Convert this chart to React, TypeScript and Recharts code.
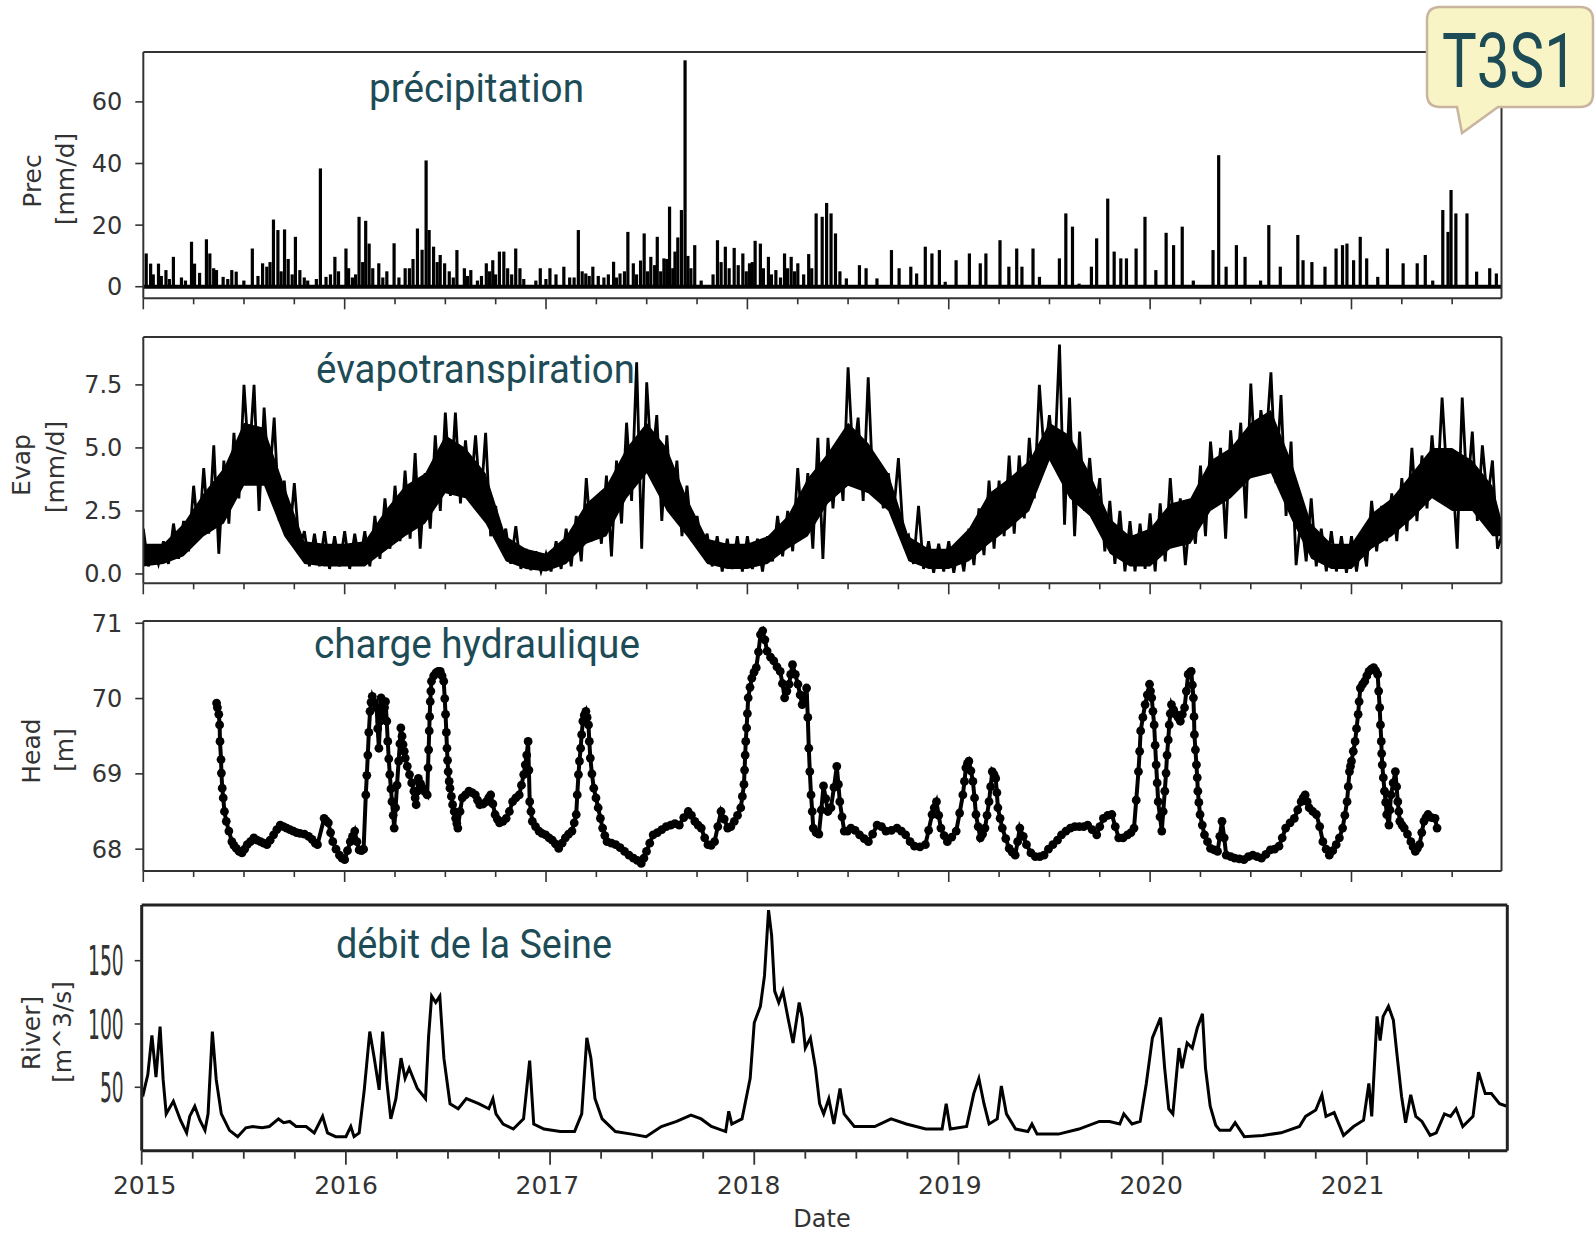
import React from 'react';
import { ComposedChart, Bar, Line, Area, Scatter, XAxis, YAxis, ReferenceLine } from 'recharts';

const W = 1595;
const H = 1233;
const INK = '#000000';
const AXIS = '#333333';
const TEAL = '#1d4b56';
const SANS = '"DejaVu Sans", Verdana, sans-serif';

// decimal-year ranges of the panels
const UPPER_X: [number, number] = [2015, 2021.745];
const RIVER_X: [number, number] = [2015, 2021.688];
// the year labels under the river panel sit on a slightly different scale than its ticks
const RIVER_LABEL_X: [number, number] = [2014.985, 2021.769];

const YEARS = [2015, 2016, 2017, 2018, 2019, 2020, 2021];
const QUARTERS = [
  2015, 2015.25, 2015.5, 2015.75, 2016, 2016.25, 2016.5, 2016.75, 2017, 2017.25, 2017.5, 2017.75,
  2018, 2018.25, 2018.5, 2018.75, 2019, 2019.25, 2019.5, 2019.75, 2020, 2020.25, 2020.5, 2020.75,
  2021, 2021.25, 2021.5,
];

const PREC_TICKS = [0, 20, 40, 60];
const EVAP_TICKS = [0, 2.5, 5, 7.5];
const HEAD_TICKS = [68, 69, 70, 71];
const RIVER_TICKS = [50, 100, 150];

// daily precipitation peaks [year, mm/d]
const PREC: [number, number][] = [
  [2015.015, 10.8], [2015.037, 7.5], [2015.05, 4.0], [2015.076, 7.5], [2015.09, 3.5], [2015.113, 5.4],
  [2015.13, 2.5], [2015.15, 9.7], [2015.19, 3.0], [2015.21, 2.0], [2015.24, 14.6], [2015.255, 7.5],
  [2015.28, 4.5], [2015.314, 15.4], [2015.331, 10.8], [2015.35, 6.0], [2015.364, 5.4], [2015.397, 3.2],
  [2015.42, 2.5], [2015.44, 5.4], [2015.462, 4.9], [2015.5, 2.0], [2015.542, 12.4], [2015.57, 3.5],
  [2015.593, 7.6], [2015.614, 6.5], [2015.63, 8.0], [2015.647, 21.8], [2015.669, 18.4], [2015.685, 5.0],
  [2015.702, 18.6], [2015.72, 9.0], [2015.74, 4.0], [2015.756, 16.2], [2015.778, 5.4], [2015.8, 3.0],
  [2015.817, 2.0], [2015.86, 2.5], [2015.88, 38.4], [2015.908, 3.2], [2015.93, 4.0], [2015.952, 9.7],
  [2015.97, 5.0], [2016.007, 12.4], [2016.02, 6.0], [2016.039, 3.0], [2016.055, 4.0], [2016.072, 22.7],
  [2016.09, 8.0], [2016.105, 21.4], [2016.122, 14.0], [2016.14, 6.0], [2016.17, 7.6], [2016.19, 3.0],
  [2016.21, 5.0], [2016.246, 14.1], [2016.27, 3.0], [2016.301, 6.0], [2016.322, 6.0], [2016.34, 9.0],
  [2016.362, 18.9], [2016.385, 12.0], [2016.405, 41.0], [2016.42, 18.4], [2016.442, 13.0], [2016.46, 8.0],
  [2016.475, 10.3], [2016.497, 7.6], [2016.52, 5.0], [2016.54, 3.0], [2016.558, 11.9], [2016.595, 6.0],
  [2016.61, 3.5], [2016.627, 5.4], [2016.66, 2.0], [2016.68, 3.5], [2016.704, 7.6], [2016.72, 5.0],
  [2016.736, 8.6], [2016.75, 4.0], [2016.769, 11.4], [2016.791, 11.4], [2016.81, 6.0], [2016.83, 4.0],
  [2016.85, 12.4], [2016.871, 6.0], [2016.89, 2.5], [2016.95, 2.0], [2016.972, 6.0], [2017.0, 2.5],
  [2017.02, 6.0], [2017.05, 4.0], [2017.089, 6.5], [2017.118, 3.0], [2017.14, 3.0], [2017.161, 18.4],
  [2017.18, 5.0], [2017.198, 4.3], [2017.215, 3.5], [2017.233, 6.5], [2017.26, 3.5], [2017.288, 3.0],
  [2017.31, 4.0], [2017.336, 8.1], [2017.35, 3.0], [2017.368, 4.3], [2017.39, 5.0], [2017.407, 17.8],
  [2017.434, 7.6], [2017.45, 4.0], [2017.47, 8.5], [2017.488, 17.3], [2017.505, 5.0], [2017.521, 9.7],
  [2017.54, 7.0], [2017.553, 16.2], [2017.57, 5.0], [2017.586, 9.2], [2017.6, 9.0], [2017.614, 26.0],
  [2017.63, 6.0], [2017.641, 11.4], [2017.655, 16.0], [2017.673, 24.9], [2017.691, 73.5], [2017.705, 10.0],
  [2017.72, 6.0], [2017.739, 13.5], [2017.771, 2.0], [2017.83, 4.0], [2017.852, 15.1], [2017.87, 8.0],
  [2017.891, 13.0], [2017.91, 6.0], [2017.935, 12.6], [2017.955, 7.0], [2017.978, 10.8], [2017.995, 5.0],
  [2018.011, 7.6], [2018.025, 8.0], [2018.039, 14.9], [2018.065, 14.0], [2018.08, 6.0], [2018.105, 9.7],
  [2018.12, 4.0], [2018.142, 5.4], [2018.165, 3.0], [2018.185, 10.8], [2018.2, 6.0], [2018.218, 9.7],
  [2018.235, 5.0], [2018.251, 7.6], [2018.28, 4.0], [2018.305, 10.6], [2018.32, 6.0], [2018.342, 23.8],
  [2018.372, 22.7], [2018.394, 27.2], [2018.416, 23.8], [2018.438, 17.3], [2018.46, 5.0], [2018.492, 2.7],
  [2018.557, 7.0], [2018.59, 6.0], [2018.644, 2.7], [2018.716, 11.9], [2018.754, 6.0], [2018.812, 6.5],
  [2018.841, 4.3], [2018.884, 13.0], [2018.917, 10.8], [2018.954, 11.9], [2018.983, 1.6], [2019.037, 8.6],
  [2019.103, 10.8], [2019.157, 7.6], [2019.185, 10.8], [2019.255, 15.1], [2019.299, 6.5], [2019.338, 12.4],
  [2019.364, 6.5], [2019.419, 12.4], [2019.451, 3.2], [2019.55, 9.2], [2019.582, 23.8], [2019.615, 19.5],
  [2019.648, 1.0], [2019.709, 6.5], [2019.735, 15.7], [2019.79, 28.6], [2019.822, 11.4], [2019.855, 9.2],
  [2019.883, 9.2], [2019.931, 12.4], [2019.975, 22.7], [2020.029, 5.4], [2020.08, 17.5], [2020.117, 13.5],
  [2020.16, 19.5], [2020.215, 2.0], [2020.313, 11.9], [2020.341, 42.7], [2020.378, 6.5], [2020.429, 13.5],
  [2020.472, 9.7], [2020.549, 2.0], [2020.59, 20.0], [2020.647, 6.5], [2020.734, 16.8], [2020.76, 8.6],
  [2020.804, 8.0], [2020.869, 6.5], [2020.924, 12.4], [2020.956, 13.5], [2020.978, 14.0], [2021.011, 8.6],
  [2021.044, 16.2], [2021.076, 9.2], [2021.131, 3.2], [2021.179, 12.4], [2021.257, 7.6], [2021.327, 7.6],
  [2021.367, 10.3], [2021.404, 2.0], [2021.454, 24.9], [2021.48, 17.8], [2021.495, 31.4], [2021.519, 23.8],
  [2021.574, 23.8], [2021.622, 4.9], [2021.687, 6.0], [2021.72, 4.3],
];

// evapotranspiration, one value every 1/40 year [mm/d]
const EVAP_2015 = [
  1.8, 0.3, 1.0, 0.4, 1.3, 0.4, 2.0, 0.6, 2.1, 0.9, 3.5, 1.4, 4.2, 1.6, 5.1, 0.8, 4.5, 2.0, 5.6, 3.0,
  7.5, 4.4, 7.5, 2.5, 6.6, 3.5, 6.2, 2.1, 3.7, 1.3, 3.6, 1.0, 1.7, 0.3, 1.6, 0.3, 1.7, 0.2, 1.5, 0.3,
];
const EVAP_2016 = [
  1.7, 0.2, 1.6, 0.4, 1.7, 0.3, 2.3, 0.6, 3.0, 1.0, 3.5, 1.3, 4.1, 1.4, 4.8, 1.0, 4.0, 1.8, 5.5, 2.5,
  6.4, 3.1, 6.4, 2.8, 5.3, 3.2, 5.5, 2.7, 5.6, 1.5, 2.7, 1.0, 1.8, 0.4, 1.9, 0.2, 1.0, 0.15, 0.9, 0.1,
];
const EVAP_2017 = [
  0.8, 0.1, 1.3, 0.2, 1.8, 0.3, 2.3, 0.5, 3.8, 1.3, 3.0, 1.2, 3.9, 0.7, 4.5, 2.0, 6.0, 2.9, 8.4, 1.0,
  7.6, 4.2, 6.3, 2.1, 5.5, 2.5, 4.5, 1.5, 3.5, 1.3, 2.3, 1.0, 1.6, 0.3, 1.5, 0.1, 1.4, 0.2, 1.5, 0.1,
];
const EVAP_2018 = [
  1.5, 0.2, 1.4, 0.1, 1.5, 0.5, 2.3, 0.7, 2.5, 0.9, 4.2, 1.5, 4.0, 1.0, 5.4, 0.6, 5.4, 2.6, 5.1, 2.9,
  8.2, 4.5, 6.2, 2.9, 7.8, 3.2, 4.5, 2.6, 4.0, 2.3, 4.6, 1.4, 1.55, 0.4, 2.7, 0.2, 1.3, 0.05, 1.2, 0.1,
];
const EVAP_2019 = [
  1.3, 0.05, 1.2, 0.1, 1.8, 0.35, 2.6, 0.75, 3.7, 1.0, 3.7, 1.5, 4.7, 1.6, 4.7, 2.2, 5.4, 3.0, 7.5, 4.6,
  6.3, 4.3, 9.1, 1.95, 7.0, 1.5, 5.65, 2.5, 4.6, 2.2, 3.8, 0.9, 2.9, 0.4, 2.5, 0.1, 2.1, 0.1, 2.0, 0.2,
];
const EVAP_2020 = [
  2.4, 0.1, 2.8, 0.5, 3.8, 1.1, 3.0, 0.35, 2.5, 1.2, 4.3, 1.5, 5.25, 3.0, 5.0, 1.4, 5.7, 3.3, 6.0, 2.2,
  7.55, 3.9, 6.5, 5.1, 8.0, 3.6, 7.1, 2.3, 5.25, 0.35, 2.3, 0.5, 3.0, 0.3, 1.8, 0.1, 1.7, 0.1, 1.5, 0.05,
];
const EVAP_2021 = [
  1.5, 0.1, 1.5, 0.3, 2.9, 0.9, 2.7, 1.3, 3.2, 1.3, 3.8, 1.7, 5.0, 2.1, 4.7, 2.6, 5.5, 3.1, 7.0, 3.7,
  4.2, 1.0, 7.0, 3.1, 5.65, 2.1, 5.1, 2.9, 4.5, 1.0, 1.6,
];

// dense core of the daily evapotranspiration cloud [year, low, high]
const EVAP_CORE: [number, number, number][] = [
  [2015.0, 0.3, 1.2], [2015.1, 0.4, 1.2], [2015.2, 0.7, 2.0], [2015.3, 1.5, 3.2], [2015.4, 2.0, 4.2],
  [2015.5, 3.5, 6.0], [2015.6, 3.5, 5.8], [2015.7, 1.5, 3.5], [2015.8, 0.4, 1.3], [2015.9, 0.3, 1.2],
  [2016.0, 0.3, 1.2], [2016.1, 0.3, 1.3], [2016.2, 0.9, 2.5], [2016.3, 1.5, 3.5], [2016.4, 2.0, 4.0],
  [2016.5, 3.2, 5.5], [2016.6, 3.0, 5.0], [2016.7, 2.0, 4.0], [2016.8, 0.5, 1.5], [2016.9, 0.2, 1.0],
  [2017.0, 0.1, 0.8], [2017.1, 0.4, 1.5], [2017.2, 1.2, 2.8], [2017.3, 1.5, 3.5], [2017.4, 3.0, 5.0],
  [2017.5, 4.0, 6.0], [2017.6, 2.5, 5.0], [2017.7, 1.5, 3.0], [2017.8, 0.4, 1.4], [2017.9, 0.2, 1.2],
  [2018.0, 0.2, 1.2], [2018.1, 0.4, 1.5], [2018.2, 1.0, 2.3], [2018.3, 1.5, 3.8], [2018.4, 2.8, 4.8],
  [2018.5, 3.5, 6.0], [2018.6, 3.2, 5.2], [2018.7, 2.5, 4.0], [2018.8, 0.5, 1.5], [2018.9, 0.2, 1.0],
  [2019.0, 0.2, 1.0], [2019.1, 0.5, 1.8], [2019.2, 1.2, 3.2], [2019.3, 1.8, 3.8], [2019.4, 2.5, 4.5],
  [2019.5, 4.5, 6.0], [2019.6, 3.0, 5.5], [2019.7, 2.3, 4.0], [2019.8, 0.8, 2.2], [2019.9, 0.3, 1.5],
  [2020.0, 0.3, 1.8], [2020.1, 1.0, 2.8], [2020.2, 1.2, 3.0], [2020.3, 2.5, 4.5], [2020.4, 3.0, 5.0],
  [2020.5, 3.8, 6.0], [2020.6, 4.0, 6.5], [2020.7, 2.2, 4.5], [2020.8, 0.6, 2.0], [2020.9, 0.2, 1.2],
  [2021.0, 0.2, 1.2], [2021.1, 1.0, 2.4], [2021.2, 1.5, 3.0], [2021.3, 2.2, 4.0], [2021.4, 3.0, 5.0],
  [2021.5, 2.5, 5.0], [2021.6, 2.5, 4.5], [2021.7, 1.5, 3.5], [2021.75, 1.5, 2.0],
];

// piezometric head [year, m]
const HEAD: [number, number][] = [
  [2015.364, 69.94], [2015.368, 69.88], [2015.375, 69.79], [2015.379, 69.65], [2015.381, 69.43], [2015.386, 69.19],
  [2015.388, 69.01], [2015.392, 68.81], [2015.397, 68.68], [2015.403, 68.5], [2015.412, 68.37], [2015.425, 68.24],
  [2015.44, 68.1], [2015.45, 68.05], [2015.462, 68.01], [2015.476, 67.97], [2015.49, 67.95], [2015.503, 68.0],
  [2015.516, 68.06], [2015.532, 68.1], [2015.549, 68.15], [2015.565, 68.12], [2015.582, 68.1], [2015.598, 68.08],
  [2015.614, 68.06], [2015.63, 68.12], [2015.647, 68.19], [2015.663, 68.26], [2015.68, 68.32], [2015.696, 68.3],
  [2015.712, 68.28], [2015.728, 68.26], [2015.745, 68.24], [2015.761, 68.22], [2015.778, 68.21], [2015.8, 68.2],
  [2015.821, 68.17], [2015.838, 68.13], [2015.854, 68.08], [2015.865, 68.06], [2015.898, 68.41], [2015.908, 68.38],
  [2015.919, 68.35], [2015.93, 68.22], [2015.941, 68.1], [2015.957, 68.0], [2015.974, 67.92], [2015.987, 67.88],
  [2016.0, 67.86], [2016.014, 67.98], [2016.028, 68.1], [2016.039, 68.17], [2016.05, 68.24], [2016.061, 68.1],
  [2016.072, 67.99], [2016.083, 67.98], [2016.094, 68.0], [2016.105, 68.72], [2016.11, 68.98], [2016.115, 69.25],
  [2016.12, 69.55], [2016.126, 69.83], [2016.131, 69.95], [2016.137, 70.03], [2016.148, 69.95], [2016.159, 69.88],
  [2016.164, 69.6], [2016.17, 69.34], [2016.176, 69.7], [2016.181, 70.01], [2016.186, 69.9], [2016.192, 69.79],
  [2016.198, 69.88], [2016.203, 69.96], [2016.209, 69.7], [2016.214, 69.43], [2016.219, 69.2], [2016.224, 68.99],
  [2016.23, 68.8], [2016.235, 68.63], [2016.241, 68.45], [2016.246, 68.28], [2016.253, 68.55], [2016.26, 68.85],
  [2016.268, 69.17], [2016.274, 69.4], [2016.279, 69.61], [2016.285, 69.5], [2016.29, 69.39], [2016.296, 69.3],
  [2016.301, 69.21], [2016.311, 69.1], [2016.322, 68.99], [2016.333, 68.88], [2016.344, 68.77], [2016.35, 68.68],
  [2016.355, 68.59], [2016.361, 68.77], [2016.366, 68.94], [2016.377, 68.87], [2016.388, 68.81], [2016.399, 68.76],
  [2016.41, 68.72], [2016.414, 69.08], [2016.417, 69.32], [2016.42, 69.57], [2016.422, 69.76], [2016.425, 69.96],
  [2016.428, 70.1], [2016.431, 70.23], [2016.442, 70.3], [2016.453, 70.34], [2016.464, 70.36], [2016.475, 70.36],
  [2016.484, 70.3], [2016.492, 70.23], [2016.497, 70.0], [2016.501, 69.79], [2016.505, 69.55], [2016.508, 69.34],
  [2016.511, 69.18], [2016.514, 69.03], [2016.519, 68.9], [2016.523, 68.81], [2016.53, 68.7], [2016.536, 68.59],
  [2016.544, 68.5], [2016.551, 68.41], [2016.557, 68.34], [2016.562, 68.28], [2016.573, 68.5], [2016.584, 68.68],
  [2016.6, 68.72], [2016.617, 68.77], [2016.633, 68.75], [2016.649, 68.72], [2016.66, 68.65], [2016.671, 68.59],
  [2016.688, 68.6], [2016.704, 68.63], [2016.715, 68.68], [2016.725, 68.72], [2016.736, 68.6], [2016.747, 68.46],
  [2016.758, 68.4], [2016.769, 68.35], [2016.786, 68.37], [2016.802, 68.41], [2016.818, 68.5], [2016.834, 68.63],
  [2016.85, 68.68], [2016.867, 68.72], [2016.878, 68.85], [2016.889, 68.99], [2016.897, 69.12], [2016.904, 69.25],
  [2016.911, 69.43], [2016.915, 69.05], [2016.919, 68.63], [2016.925, 68.5], [2016.932, 68.37], [2016.948, 68.3],
  [2016.965, 68.24], [2016.98, 68.21], [2016.998, 68.19], [2017.015, 68.15], [2017.031, 68.12], [2017.047, 68.07],
  [2017.063, 68.01], [2017.08, 68.08], [2017.096, 68.15], [2017.112, 68.2], [2017.129, 68.24], [2017.14, 68.35],
  [2017.15, 68.46], [2017.155, 68.72], [2017.161, 68.99], [2017.166, 69.17], [2017.172, 69.34], [2017.177, 69.52],
  [2017.183, 69.7], [2017.19, 69.78], [2017.198, 69.83], [2017.204, 69.75], [2017.211, 69.65], [2017.215, 69.43],
  [2017.22, 69.21], [2017.228, 69.0], [2017.237, 68.81], [2017.248, 68.68], [2017.259, 68.55], [2017.27, 68.41],
  [2017.281, 68.28], [2017.292, 68.18], [2017.303, 68.1], [2017.325, 68.08], [2017.346, 68.06], [2017.368, 68.02],
  [2017.39, 67.97], [2017.412, 67.92], [2017.434, 67.88], [2017.453, 67.85], [2017.473, 67.81], [2017.486, 67.88],
  [2017.499, 67.97], [2017.515, 68.08], [2017.532, 68.19], [2017.553, 68.22], [2017.575, 68.26], [2017.597, 68.3],
  [2017.619, 68.32], [2017.64, 68.34], [2017.662, 68.32], [2017.684, 68.42], [2017.706, 68.5], [2017.722, 68.45],
  [2017.739, 68.37], [2017.755, 68.32], [2017.771, 68.28], [2017.788, 68.15], [2017.804, 68.06], [2017.82, 68.05],
  [2017.837, 68.1], [2017.853, 68.3], [2017.869, 68.5], [2017.885, 68.4], [2017.902, 68.28], [2017.918, 68.3],
  [2017.935, 68.37], [2017.951, 68.45], [2017.967, 68.55], [2017.975, 68.7], [2017.983, 68.86], [2017.986, 69.05],
  [2017.989, 69.25], [2017.992, 69.43], [2017.996, 69.61], [2018.0, 69.8], [2018.004, 70.01], [2018.013, 70.15],
  [2018.022, 70.27], [2018.033, 70.35], [2018.044, 70.41], [2018.055, 70.62], [2018.065, 70.85], [2018.076, 70.9],
  [2018.087, 70.78], [2018.098, 70.63], [2018.115, 70.55], [2018.131, 70.5], [2018.147, 70.42], [2018.163, 70.36],
  [2018.174, 70.2], [2018.185, 70.01], [2018.196, 70.1], [2018.207, 70.19], [2018.215, 70.32], [2018.224, 70.45],
  [2018.238, 70.32], [2018.251, 70.19], [2018.262, 70.05], [2018.272, 69.92], [2018.283, 70.03], [2018.294, 70.14],
  [2018.3, 69.75], [2018.305, 69.34], [2018.31, 69.03], [2018.316, 68.72], [2018.322, 68.5], [2018.327, 68.28],
  [2018.341, 68.22], [2018.355, 68.2], [2018.367, 68.52], [2018.378, 68.84], [2018.389, 68.67], [2018.4, 68.5],
  [2018.415, 68.55], [2018.43, 68.82], [2018.444, 69.1], [2018.452, 68.86], [2018.459, 68.63], [2018.47, 68.43],
  [2018.481, 68.24], [2018.497, 68.24], [2018.514, 68.28], [2018.535, 68.25], [2018.557, 68.19], [2018.58, 68.14],
  [2018.601, 68.1], [2018.622, 68.2], [2018.644, 68.32], [2018.666, 68.3], [2018.688, 68.24], [2018.715, 68.25],
  [2018.743, 68.28], [2018.765, 68.24], [2018.786, 68.19], [2018.808, 68.1], [2018.83, 68.04], [2018.857, 68.03],
  [2018.884, 68.06], [2018.9, 68.25], [2018.917, 68.46], [2018.928, 68.55], [2018.939, 68.63], [2018.95, 68.45],
  [2018.961, 68.28], [2018.977, 68.18], [2018.993, 68.1], [2019.015, 68.16], [2019.037, 68.24], [2019.054, 68.48],
  [2019.07, 68.72], [2019.078, 68.9], [2019.085, 69.08], [2019.093, 69.14], [2019.1, 69.17], [2019.11, 69.04],
  [2019.12, 68.9], [2019.128, 68.68], [2019.135, 68.46], [2019.146, 68.3], [2019.157, 68.15], [2019.168, 68.2],
  [2019.18, 68.28], [2019.19, 68.45], [2019.2, 68.63], [2019.208, 68.83], [2019.216, 69.03], [2019.225, 68.99],
  [2019.233, 68.94], [2019.239, 68.75], [2019.244, 68.55], [2019.255, 68.41], [2019.266, 68.28], [2019.283, 68.14],
  [2019.3, 68.01], [2019.315, 67.96], [2019.33, 67.92], [2019.342, 68.1], [2019.353, 68.28], [2019.37, 68.17],
  [2019.386, 68.06], [2019.408, 67.95], [2019.43, 67.9], [2019.452, 67.9], [2019.473, 67.92], [2019.495, 68.0],
  [2019.517, 68.06], [2019.54, 68.12], [2019.56, 68.19], [2019.582, 68.24], [2019.604, 68.28], [2019.626, 68.3],
  [2019.648, 68.3], [2019.67, 68.3], [2019.69, 68.32], [2019.712, 68.26], [2019.735, 68.19], [2019.75, 68.3],
  [2019.768, 68.41], [2019.79, 68.45], [2019.81, 68.46], [2019.827, 68.3], [2019.844, 68.15], [2019.866, 68.15],
  [2019.888, 68.19], [2019.905, 68.22], [2019.92, 68.28], [2019.931, 68.65], [2019.942, 69.03], [2019.948, 69.3],
  [2019.953, 69.57], [2019.964, 69.75], [2019.975, 69.92], [2019.986, 70.05], [2019.997, 70.19], [2020.002, 70.1],
  [2020.008, 70.01], [2020.014, 69.83], [2020.02, 69.65], [2020.025, 69.38], [2020.03, 69.12], [2020.035, 68.88],
  [2020.04, 68.63], [2020.049, 68.43], [2020.058, 68.24], [2020.065, 68.5], [2020.073, 68.77], [2020.079, 69.01],
  [2020.084, 69.25], [2020.09, 69.45], [2020.095, 69.65], [2020.1, 69.8], [2020.106, 69.92], [2020.117, 69.85],
  [2020.128, 69.79], [2020.139, 69.75], [2020.15, 69.7], [2020.16, 69.79], [2020.171, 69.88], [2020.18, 70.1],
  [2020.189, 70.32], [2020.197, 70.34], [2020.204, 70.36], [2020.21, 70.18], [2020.215, 70.01], [2020.218, 69.76],
  [2020.22, 69.52], [2020.225, 69.32], [2020.23, 69.12], [2020.234, 68.95], [2020.237, 68.77], [2020.242, 68.62],
  [2020.248, 68.46], [2020.259, 68.32], [2020.27, 68.19], [2020.285, 68.1], [2020.3, 68.01], [2020.318, 67.99],
  [2020.335, 67.97], [2020.346, 68.17], [2020.357, 68.37], [2020.368, 68.15], [2020.378, 67.92], [2020.4, 67.9],
  [2020.42, 67.88], [2020.443, 67.87], [2020.466, 67.86], [2020.488, 67.9], [2020.51, 67.92], [2020.531, 67.9],
  [2020.553, 67.88], [2020.575, 67.93], [2020.597, 67.99], [2020.618, 68.0], [2020.64, 68.04], [2020.656, 68.15],
  [2020.673, 68.28], [2020.695, 68.35], [2020.716, 68.41], [2020.733, 68.52], [2020.75, 68.63], [2020.76, 68.68],
  [2020.77, 68.72], [2020.78, 68.63], [2020.79, 68.55], [2020.808, 68.5], [2020.826, 68.46], [2020.842, 68.3],
  [2020.858, 68.1], [2020.874, 68.0], [2020.89, 67.92], [2020.907, 67.98], [2020.924, 68.06], [2020.94, 68.15],
  [2020.956, 68.28], [2020.967, 68.45], [2020.978, 68.63], [2020.984, 68.83], [2020.99, 69.03], [2020.995, 69.1],
  [2021.0, 69.17], [2021.009, 69.3], [2021.018, 69.43], [2021.025, 69.6], [2021.033, 69.79], [2021.038, 69.96],
  [2021.044, 70.14], [2021.055, 70.19], [2021.066, 70.23], [2021.076, 70.3], [2021.087, 70.36], [2021.098, 70.39],
  [2021.11, 70.41], [2021.12, 70.37], [2021.13, 70.32], [2021.135, 70.1], [2021.14, 69.88], [2021.144, 69.65],
  [2021.148, 69.43], [2021.15, 69.27], [2021.153, 69.12], [2021.158, 68.95], [2021.164, 68.77], [2021.17, 68.62],
  [2021.175, 68.46], [2021.186, 68.32], [2021.191, 68.52], [2021.196, 68.72], [2021.207, 68.88], [2021.218, 69.03],
  [2021.224, 68.83], [2021.23, 68.63], [2021.235, 68.5], [2021.24, 68.37], [2021.251, 68.32], [2021.262, 68.28],
  [2021.278, 68.2], [2021.295, 68.1], [2021.306, 68.03], [2021.317, 67.97], [2021.327, 68.01], [2021.338, 68.06],
  [2021.349, 68.22], [2021.36, 68.37], [2021.37, 68.42], [2021.38, 68.46], [2021.398, 68.42], [2021.415, 68.41],
  [2021.425, 68.28],
];

// Seine discharge [year, m3/s]
const RIVER: [number, number][] = [
  [2015.0, 47], [2015.008, 45], [2015.03, 60], [2015.05, 91], [2015.07, 58], [2015.09, 98], [2015.105, 56],
  [2015.12, 29], [2015.155, 39], [2015.19, 24], [2015.22, 14], [2015.235, 27], [2015.26, 35], [2015.285, 24],
  [2015.31, 16], [2015.325, 29], [2015.346, 94], [2015.365, 56], [2015.39, 29], [2015.43, 16], [2015.47, 11],
  [2015.51, 18], [2015.545, 19], [2015.59, 18], [2015.625, 19], [2015.67, 25], [2015.695, 22], [2015.725, 23],
  [2015.756, 19], [2015.805, 19], [2015.845, 14], [2015.886, 27], [2015.91, 14], [2015.95, 11], [2016.0, 11],
  [2016.024, 19], [2016.04, 11], [2016.065, 14], [2016.09, 48], [2016.117, 94], [2016.138, 74], [2016.163, 48],
  [2016.18, 94], [2016.2, 55], [2016.22, 25], [2016.245, 41], [2016.27, 73], [2016.29, 57], [2016.31, 65],
  [2016.35, 49], [2016.39, 41], [2016.405, 90], [2016.42, 122], [2016.44, 117], [2016.46, 122], [2016.48, 73],
  [2016.51, 37], [2016.55, 33], [2016.59, 41], [2016.65, 37], [2016.7, 33], [2016.72, 41], [2016.735, 29],
  [2016.77, 21], [2016.82, 17], [2016.87, 25], [2016.9, 71], [2016.92, 21], [2016.97, 17], [2017.05, 15],
  [2017.12, 15], [2017.155, 29], [2017.18, 89], [2017.2, 73], [2017.22, 41], [2017.255, 25], [2017.32, 15],
  [2017.4, 13], [2017.47, 11], [2017.545, 19], [2017.62, 23], [2017.69, 28], [2017.74, 25], [2017.79, 19],
  [2017.86, 15], [2017.875, 31], [2017.89, 21], [2017.94, 25], [2017.98, 57], [2018.0, 101], [2018.03, 114],
  [2018.05, 138], [2018.07, 190], [2018.085, 170], [2018.1, 126], [2018.12, 117], [2018.14, 126], [2018.165, 105],
  [2018.19, 85], [2018.22, 117], [2018.235, 105], [2018.25, 81], [2018.275, 89], [2018.3, 65], [2018.32, 37],
  [2018.34, 29], [2018.365, 41], [2018.39, 21], [2018.42, 49], [2018.44, 29], [2018.49, 19], [2018.59, 19],
  [2018.67, 25], [2018.745, 21], [2018.84, 17], [2018.92, 17], [2018.94, 37], [2018.96, 17], [2019.04, 19],
  [2019.075, 45], [2019.1, 57], [2019.125, 37], [2019.15, 21], [2019.19, 25], [2019.21, 51], [2019.235, 29],
  [2019.28, 17], [2019.34, 15], [2019.36, 21], [2019.385, 13], [2019.49, 13], [2019.59, 17], [2019.69, 23],
  [2019.74, 23], [2019.79, 21], [2019.81, 29], [2019.85, 21], [2019.89, 23], [2019.92, 53], [2019.95, 89],
  [2019.99, 105], [2020.01, 65], [2020.03, 33], [2020.05, 29], [2020.08, 81], [2020.095, 65], [2020.12, 85],
  [2020.145, 81], [2020.17, 97], [2020.195, 108], [2020.21, 65], [2020.233, 35], [2020.26, 20], [2020.28, 16],
  [2020.33, 16], [2020.355, 22], [2020.4, 11], [2020.49, 12], [2020.58, 14], [2020.67, 19], [2020.7, 27],
  [2020.75, 32], [2020.78, 44], [2020.8, 27], [2020.84, 30], [2020.886, 12], [2020.935, 19], [2020.984, 24],
  [2021.01, 53], [2021.024, 27], [2021.05, 106], [2021.065, 87], [2021.08, 106], [2021.106, 114], [2021.13, 103],
  [2021.147, 77], [2021.17, 43], [2021.19, 22], [2021.215, 44], [2021.24, 27], [2021.27, 23], [2021.31, 12],
  [2021.34, 14], [2021.38, 29], [2021.41, 27], [2021.437, 33], [2021.47, 19], [2021.52, 27], [2021.547, 62],
  [2021.58, 45], [2021.61, 45], [2021.65, 37], [2021.686, 35],
];

const precRows = PREC.map(([t, mm]) => ({ t, mm }));
const evapRows = [
  [2015, EVAP_2015], [2016, EVAP_2016], [2017, EVAP_2017], [2018, EVAP_2018],
  [2019, EVAP_2019], [2020, EVAP_2020], [2021, EVAP_2021],
].flatMap(([year, vals]) => (vals as number[]).map((v, i) => ({ t: (year as number) + i / 40, mm: v })));
const evapCoreRows = EVAP_CORE.map(([t, lo, hi]) => ({ t, band: [lo, hi] }));
const headRows = HEAD.map(([t, h]) => ({ t, h }));
const riverRows = RIVER.map(([t, q]) => ({ t, q }));

const frame = { stroke: AXIS, strokeWidth: 2 };
const riverFrame = { stroke: '#222222', strokeWidth: 3 };
const yTickStyle = { fill: AXIS, fontSize: 24, fontFamily: SANS };

function QuarterTick(props: any) {
  const { x, y, payload } = props;
  const major = Number.isInteger(payload.value);
  return <line x1={x} x2={x} y1={y} y2={y + (major ? 11 : 6)} stroke={AXIS} strokeWidth={1.6} />;
}

// tick marks of the river panel, with the year labels placed on their own scale
function RiverXTick(props: any) {
  const { x, y, payload, width } = props;
  const v = payload.value as number;
  const major = Number.isInteger(v);
  const span = typeof width === 'number' && width > 500 ? width : 1365.6;
  const shift = span * (
    (v - RIVER_LABEL_X[0]) / (RIVER_LABEL_X[1] - RIVER_LABEL_X[0]) -
    (v - RIVER_X[0]) / (RIVER_X[1] - RIVER_X[0])
  );
  return (
    <g>
      <line x1={x} x2={x} y1={y} y2={y + (major ? 14 : 8)} stroke={AXIS} strokeWidth={1.8} />
      {major && (
        <text x={x + shift} y={y + 43} textAnchor="middle" fill={AXIS} fontSize={25} fontFamily={SANS}>
          {v}
        </text>
      )}
    </g>
  );
}

function RiverYTick(props: any) {
  const { x, y, payload } = props;
  return (
    <text transform={`translate(${x},${y}) scale(0.78,1.7)`} textAnchor="end" dy="0.36em"
      fill={AXIS} fontSize={24} fontFamily={SANS}>
      {payload.value}
    </text>
  );
}

function PrecBar(props: any) {
  const { x, y, width, height } = props;
  if (!(height > 0)) return <g />;
  return <rect x={x + width / 2 - 1.6} y={y} width={3.2} height={height} fill={INK} />;
}

function HeadDot(props: any) {
  return <circle cx={props.cx} cy={props.cy} r={4.4} fill={INK} />;
}

export default function App() {
  return (
    <div style={{ position: 'absolute', left: 0, top: 0, width: W, height: H, background: '#fff' }}>
      {/* précipitation */}
      <div style={{ position: 'absolute', left: 0, top: 0 }}>
        <ComposedChart width={W} height={330} data={precRows} margin={{ top: 51, right: 92.5, bottom: 30.7, left: 0 }}>
          <XAxis xAxisId="b" dataKey="t" type="number" domain={UPPER_X} allowDataOverflow ticks={QUARTERS}
            interval={0} tick={QuarterTick} tickLine={false} axisLine={frame} height={1} tickSize={0} tickMargin={0} />
          <XAxis xAxisId="t" orientation="top" type="number" domain={UPPER_X} allowDataOverflow ticks={YEARS}
            tick={false} tickLine={false} axisLine={frame} height={1} />
          <YAxis yAxisId="l" type="number" domain={[-3.76, 76.2]} allowDataOverflow ticks={PREC_TICKS}
            interval={0} width={143.3} tickSize={8} tickMargin={13} tick={yTickStyle}
            tickLine={{ stroke: AXIS, strokeWidth: 1.6 }} axisLine={frame} />
          <YAxis yAxisId="r" orientation="right" type="number" domain={[-3.76, 76.2]} allowDataOverflow
            ticks={PREC_TICKS} tick={false} tickLine={false} axisLine={frame} width={1} />
          <Bar xAxisId="b" yAxisId="l" dataKey="mm" fill={INK} barSize={3} shape={PrecBar} isAnimationActive={false} />
          <ReferenceLine xAxisId="b" yAxisId="l" y={0} stroke={INK} strokeWidth={4} />
        </ComposedChart>
      </div>

      {/* évapotranspiration */}
      <div style={{ position: 'absolute', left: 0, top: 305 }}>
        <ComposedChart width={W} height={320} margin={{ top: 31, right: 92.5, bottom: 40.7, left: 0 }}>
          <XAxis xAxisId="b" dataKey="t" type="number" domain={UPPER_X} allowDataOverflow ticks={QUARTERS}
            interval={0} tick={QuarterTick} tickLine={false} axisLine={frame} height={1} tickSize={0} tickMargin={0} />
          <XAxis xAxisId="t" orientation="top" type="number" domain={UPPER_X} allowDataOverflow ticks={YEARS}
            tick={false} tickLine={false} axisLine={frame} height={1} />
          <YAxis yAxisId="l" type="number" domain={[-0.37, 9.4]} allowDataOverflow ticks={EVAP_TICKS}
            interval={0} width={143.3} tickSize={8} tickMargin={13} tick={yTickStyle}
            tickFormatter={(v: number) => v.toFixed(1)}
            tickLine={{ stroke: AXIS, strokeWidth: 1.6 }} axisLine={frame} />
          <YAxis yAxisId="r" orientation="right" type="number" domain={[-0.37, 9.4]} allowDataOverflow
            ticks={EVAP_TICKS} tick={false} tickLine={false} axisLine={frame} width={1} />
          <Area xAxisId="b" yAxisId="l" data={evapCoreRows} dataKey="band" type="linear" stroke="none"
            fill={INK} fillOpacity={1} isAnimationActive={false} />
          <Line xAxisId="b" yAxisId="l" data={evapRows} dataKey="mm" type="linear" stroke={INK} strokeWidth={2.8}
            dot={false} isAnimationActive={false} />
        </ComposedChart>
      </div>

      {/* charge hydraulique */}
      <div style={{ position: 'absolute', left: 0, top: 590 }}>
        <ComposedChart width={W} height={315} data={headRows} margin={{ top: 30, right: 92.5, bottom: 33, left: 0 }}>
          <XAxis xAxisId="b" dataKey="t" type="number" domain={UPPER_X} allowDataOverflow ticks={QUARTERS}
            interval={0} tick={QuarterTick} tickLine={false} axisLine={frame} height={1} tickSize={0} tickMargin={0} />
          <XAxis xAxisId="t" orientation="top" type="number" domain={UPPER_X} allowDataOverflow ticks={YEARS}
            tick={false} tickLine={false} axisLine={frame} height={1} />
          <YAxis yAxisId="l" dataKey="h" type="number" domain={[67.71, 71.03]} allowDataOverflow ticks={HEAD_TICKS}
            interval={0} width={143.3} tickSize={8} tickMargin={13} tick={yTickStyle}
            tickLine={{ stroke: AXIS, strokeWidth: 1.6 }} axisLine={frame} />
          <YAxis yAxisId="r" orientation="right" type="number" domain={[67.71, 71.03]} allowDataOverflow
            ticks={HEAD_TICKS} tick={false} tickLine={false} axisLine={frame} width={1} />
          <Line xAxisId="b" yAxisId="l" dataKey="h" type="linear" stroke={INK} strokeWidth={4}
            dot={false} isAnimationActive={false} />
          <Scatter xAxisId="b" yAxisId="l" dataKey="h" fill={INK} shape={HeadDot} isAnimationActive={false} />
        </ComposedChart>
      </div>

      {/* débit de la Seine */}
      <div style={{ position: 'absolute', left: 0, top: 875 }}>
        <ComposedChart width={W} height={358} data={riverRows} margin={{ top: 29, right: 86.7, bottom: 81.3, left: 0 }}>
          <XAxis xAxisId="b" dataKey="t" type="number" domain={RIVER_X} allowDataOverflow ticks={QUARTERS}
            interval={0} tick={RiverXTick} tickLine={false} axisLine={riverFrame}
            height={1} tickSize={0} tickMargin={0} />
          <XAxis xAxisId="t" orientation="top" type="number" domain={RIVER_X} allowDataOverflow ticks={YEARS}
            tick={false} tickLine={false} axisLine={riverFrame} height={1} />
          <YAxis yAxisId="l" type="number" domain={[-0.1, 194]} allowDataOverflow ticks={RIVER_TICKS}
            interval={0} width={141.7} tickSize={7} tickMargin={11} tick={RiverYTick}
            tickLine={{ stroke: AXIS, strokeWidth: 1.6 }} axisLine={riverFrame} />
          <YAxis yAxisId="r" orientation="right" type="number" domain={[-0.1, 194]} allowDataOverflow
            ticks={RIVER_TICKS} tick={false} tickLine={false} axisLine={riverFrame} width={1} />
          <Line xAxisId="b" yAxisId="l" dataKey="q" type="linear" stroke={INK} strokeWidth={3}
            dot={false} isAnimationActive={false} />
        </ComposedChart>
      </div>

      {/* text overlay: axis titles, panel captions, tag */}
      <svg width={W} height={H} style={{ position: 'absolute', left: 0, top: 0, pointerEvents: 'none' }}>
        <g fill={AXIS} fontFamily={SANS} fontSize={25} textAnchor="middle">
          <text transform="translate(41,181) rotate(-90)">Prec</text>
          <text transform="translate(74,179) rotate(-90)">[mm/d]</text>
          <text transform="translate(30,465) rotate(-90)">Evap</text>
          <text transform="translate(64,467) rotate(-90)">[mm/d]</text>
          <text transform="translate(40,751) rotate(-90)">Head</text>
          <text transform="translate(73,750) rotate(-90)">[m]</text>
          <text transform="translate(40,1033) rotate(-90)">River]</text>
          <text transform="translate(71,1032) rotate(-90)">[m^3/s]</text>
          <text x={822} y={1227} fontSize={24}>Date</text>
        </g>
        <g fill={TEAL} fontFamily="Roboto, sans-serif" fontSize={41}>
          <text x={369} y={102} textLength={215} lengthAdjust="spacingAndGlyphs">précipitation</text>
          <text x={316} y={383} textLength={319} lengthAdjust="spacingAndGlyphs">évapotranspiration</text>
          <text x={314} y={658} textLength={326} lengthAdjust="spacingAndGlyphs">charge hydraulique</text>
          <text x={336} y={958} textLength={276} lengthAdjust="spacingAndGlyphs">débit de la Seine</text>
        </g>
        <path
          d="M 1440 7 H 1580 Q 1593 7 1593 20 V 94 Q 1593 107 1580 107 H 1498 L 1462 133 L 1457 107 H 1440 Q 1427 107 1427 94 V 20 Q 1427 7 1440 7 Z"
          fill="#f8f4c6" stroke="#c9b59f" strokeWidth={2.5} />
        <text transform="translate(1442,87) scale(1,1.3)" fill={TEAL} fontFamily="Roboto, sans-serif" fontSize={58}
          textLength={135} lengthAdjust="spacingAndGlyphs">T3S1</text>
      </svg>
    </div>
  );
}
